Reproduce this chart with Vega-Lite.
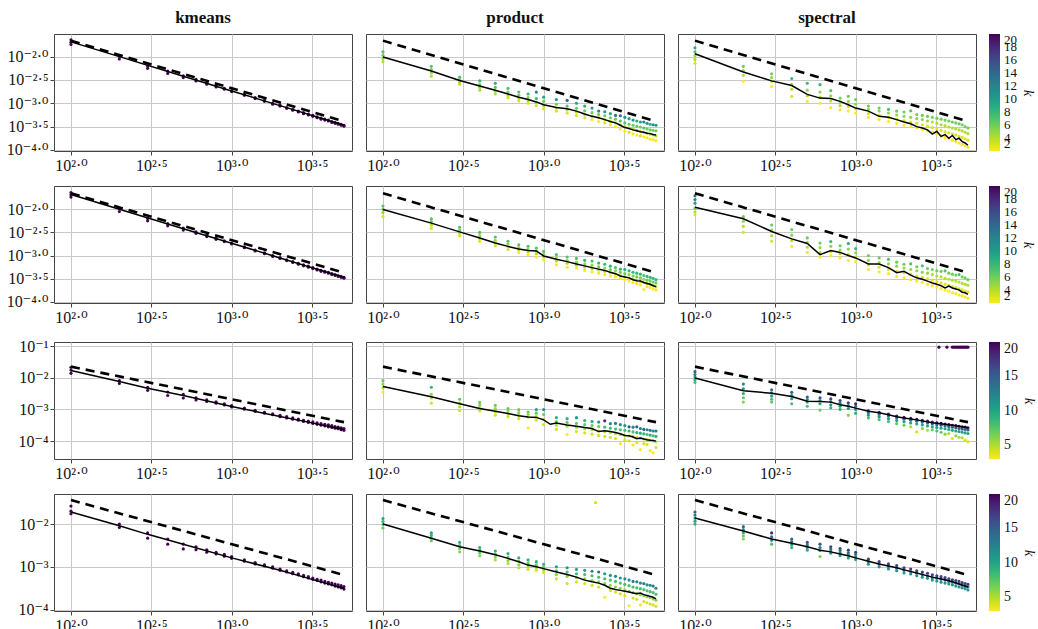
{
"$schema":"https://vega.github.io/schema/vega-lite/v6.json",
"background":"white",
"padding":{"left":5,"top":8,"right":0,"bottom":0},
"config":{
 "font":"'Liberation Serif', 'DejaVu Serif', serif",
 "view":{"stroke":"#444","strokeWidth":1},
 "axis":{"grid":true,"gridColor":"#c8c8c8","gridWidth":1,"domain":false,"tickColor":"#444","tickSize":4,"labelFont":"'Liberation Serif', 'DejaVu Serif', serif","labelFontSize":16,"labelColor":"#111","labelPadding":2},
 "legend":{"labelFont":"'Liberation Serif', 'DejaVu Serif', serif","titleFont":"'Liberation Serif', 'DejaVu Serif', serif"},
 "title":{"font":"'Liberation Serif', 'DejaVu Serif', serif","fontSize":17,"fontWeight":"bold","offset":7,"color":"#111"}
},
"datasets":{
"ref":[{"r":1,"n":100,"y":2.2e-2},{"r":1,"n":5000,"y":4.09e-4},{"r":2,"n":100,"y":2.2e-2},{"r":2,"n":5000,"y":4.27e-4},{"r":3,"n":100,"y":2.24e-2},{"r":3,"n":5000,"y":3.98e-4},{"r":4,"n":100,"y":3.63e-2},{"r":4,"n":5000,"y":6.46e-4}],
"km12":[{"n":100,"k":20,"y":2.29e-2},{"n":100,"k":20,"y":2.04e-2},{"n":100,"k":20,"y":1.82e-2},{"n":200,"k":20,"y":1.02e-2},{"n":200,"k":20,"y":8.9e-3},{"n":300,"k":20,"y":6.3e-3},{"n":300,"k":20,"y":5.6e-3},{"n":400,"k":20,"y":4.9e-3},{"n":400,"k":20,"y":4.37e-3},{"n":500,"k":20,"y":3.89e-3},{"n":500,"k":20,"y":3.55e-3},{"n":600,"k":20,"y":3.24e-3},{"n":600,"k":20,"y":3.02e-3},{"n":700,"k":20,"y":2.75e-3},{"n":700,"k":20,"y":2.57e-3},{"n":800,"k":20,"y":2.4e-3},{"n":800,"k":20,"y":2.24e-3},{"n":900,"k":20,"y":2.09e-3},{"n":900,"k":20,"y":2.0e-3},{"n":1000,"k":20,"y":1.86e-3},{"n":1000,"k":20,"y":1.78e-3},{"n":1200,"k":20,"y":1.55e-3},{"n":1200,"k":20,"y":1.48e-3},{"n":1400,"k":20,"y":1.32e-3},{"n":1400,"k":20,"y":1.26e-3},{"n":1600,"k":20,"y":1.15e-3},{"n":1600,"k":20,"y":1.1e-3},{"n":1800,"k":20,"y":1.0e-3},{"n":1800,"k":20,"y":9.55e-4},{"n":2000,"k":20,"y":9.1e-4},{"n":2000,"k":20,"y":8.7e-4},{"n":2200,"k":20,"y":8.1e-4},{"n":2200,"k":20,"y":7.8e-4},{"n":2400,"k":20,"y":7.4e-4},{"n":2400,"k":20,"y":7.1e-4},{"n":2600,"k":20,"y":6.8e-4},{"n":2600,"k":20,"y":6.5e-4},{"n":2800,"k":20,"y":6.3e-4},{"n":2800,"k":20,"y":6.0e-4},{"n":3000,"k":20,"y":5.9e-4},{"n":3000,"k":20,"y":5.6e-4},{"n":3200,"k":20,"y":5.5e-4},{"n":3200,"k":20,"y":5.25e-4},{"n":3400,"k":20,"y":5.1e-4},{"n":3400,"k":20,"y":4.9e-4},{"n":3600,"k":20,"y":4.8e-4},{"n":3600,"k":20,"y":4.57e-4},{"n":3800,"k":20,"y":4.57e-4},{"n":3800,"k":20,"y":4.37e-4},{"n":4000,"k":20,"y":4.37e-4},{"n":4000,"k":20,"y":4.17e-4},{"n":4200,"k":20,"y":4.07e-4},{"n":4200,"k":20,"y":3.89e-4},{"n":4400,"k":20,"y":3.89e-4},{"n":4400,"k":20,"y":3.72e-4},{"n":4600,"k":20,"y":3.72e-4},{"n":4600,"k":20,"y":3.55e-4},{"n":4800,"k":20,"y":3.55e-4},{"n":4800,"k":20,"y":3.39e-4},{"n":5000,"k":20,"y":3.39e-4},{"n":5000,"k":20,"y":3.24e-4}],
"m_km12":[{"n":100,"y":2.07e-2},{"n":200,"y":1.0e-2},{"n":500,"y":3.8e-3},{"n":1000,"y":1.84e-3},{"n":2000,"y":8.9e-4},{"n":5000,"y":3.39e-4}],
"km3":[{"n":100,"k":20,"y":2.14e-2},{"n":100,"k":20,"y":1.74e-2},{"n":100,"k":20,"y":1.38e-2},{"n":200,"k":20,"y":8.1e-3},{"n":200,"k":20,"y":6.6e-3},{"n":300,"k":20,"y":5.0e-3},{"n":300,"k":20,"y":4.0e-3},{"n":400,"k":20,"y":3.55e-3},{"n":400,"k":20,"y":2.75e-3},{"n":500,"k":20,"y":3.02e-3},{"n":500,"k":20,"y":2.29e-3},{"n":600,"k":20,"y":2.34e-3},{"n":600,"k":20,"y":2.0e-3},{"n":700,"k":20,"y":2.0e-3},{"n":700,"k":20,"y":1.78e-3},{"n":800,"k":20,"y":1.74e-3},{"n":800,"k":20,"y":1.58e-3},{"n":900,"k":20,"y":1.51e-3},{"n":900,"k":20,"y":1.38e-3},{"n":1000,"k":20,"y":1.32e-3},{"n":1000,"k":20,"y":1.2e-3},{"n":1200,"k":20,"y":1.1e-3},{"n":1200,"k":20,"y":1.02e-3},{"n":1400,"k":20,"y":9.3e-4},{"n":1400,"k":20,"y":8.7e-4},{"n":1600,"k":20,"y":8.1e-4},{"n":1600,"k":20,"y":7.6e-4},{"n":1800,"k":20,"y":7.2e-4},{"n":1800,"k":20,"y":6.8e-4},{"n":2000,"k":20,"y":6.5e-4},{"n":2000,"k":20,"y":5.9e-4},{"n":2200,"k":20,"y":5.9e-4},{"n":2200,"k":20,"y":5.4e-4},{"n":2400,"k":20,"y":5.4e-4},{"n":2400,"k":20,"y":4.9e-4},{"n":2600,"k":20,"y":5.0e-4},{"n":2600,"k":20,"y":4.57e-4},{"n":2800,"k":20,"y":4.57e-4},{"n":2800,"k":20,"y":4.17e-4},{"n":3000,"k":20,"y":4.27e-4},{"n":3000,"k":20,"y":3.89e-4},{"n":3200,"k":20,"y":4.07e-4},{"n":3200,"k":20,"y":3.63e-4},{"n":3400,"k":20,"y":3.8e-4},{"n":3400,"k":20,"y":3.39e-4},{"n":3600,"k":20,"y":3.55e-4},{"n":3600,"k":20,"y":3.16e-4},{"n":3800,"k":20,"y":3.39e-4},{"n":3800,"k":20,"y":3.02e-4},{"n":4000,"k":20,"y":3.24e-4},{"n":4000,"k":20,"y":2.82e-4},{"n":4200,"k":20,"y":3.09e-4},{"n":4200,"k":20,"y":2.69e-4},{"n":4400,"k":20,"y":2.88e-4},{"n":4400,"k":20,"y":2.57e-4},{"n":4600,"k":20,"y":2.75e-4},{"n":4600,"k":20,"y":2.45e-4},{"n":4800,"k":20,"y":2.63e-4},{"n":4800,"k":20,"y":2.29e-4},{"n":5000,"k":20,"y":2.51e-4},{"n":5000,"k":20,"y":2.19e-4}],
"m_km3":[{"n":100,"y":1.7e-2},{"n":200,"y":7.6e-3},{"n":300,"y":4.68e-3},{"n":500,"y":2.75e-3},{"n":1000,"y":1.23e-3},{"n":2000,"y":6.0e-4},{"n":3000,"y":3.98e-4},{"n":5000,"y":2.34e-4}],
"km4":[{"n":100,"k":20,"y":2.63e-2},{"n":100,"k":20,"y":2.0e-2},{"n":100,"k":20,"y":1.74e-2},{"n":200,"k":20,"y":1.0e-2},{"n":200,"k":20,"y":8.3e-3},{"n":300,"k":20,"y":6.2e-3},{"n":300,"k":20,"y":4.68e-3},{"n":400,"k":20,"y":4.47e-3},{"n":400,"k":20,"y":3.39e-3},{"n":500,"k":20,"y":3.39e-3},{"n":500,"k":20,"y":2.63e-3},{"n":600,"k":20,"y":2.95e-3},{"n":600,"k":20,"y":2.51e-3},{"n":700,"k":20,"y":2.51e-3},{"n":700,"k":20,"y":2.19e-3},{"n":800,"k":20,"y":2.19e-3},{"n":800,"k":20,"y":2.0e-3},{"n":900,"k":20,"y":1.95e-3},{"n":900,"k":20,"y":1.78e-3},{"n":1000,"k":20,"y":1.74e-3},{"n":1000,"k":20,"y":1.58e-3},{"n":1200,"k":20,"y":1.45e-3},{"n":1200,"k":20,"y":1.35e-3},{"n":1400,"k":20,"y":1.26e-3},{"n":1400,"k":20,"y":1.17e-3},{"n":1600,"k":20,"y":1.12e-3},{"n":1600,"k":20,"y":1.05e-3},{"n":1800,"k":20,"y":1.0e-3},{"n":1800,"k":20,"y":9.3e-4},{"n":2000,"k":20,"y":8.9e-4},{"n":2000,"k":20,"y":8.3e-4},{"n":2200,"k":20,"y":8.1e-4},{"n":2200,"k":20,"y":7.6e-4},{"n":2400,"k":20,"y":7.4e-4},{"n":2400,"k":20,"y":6.9e-4},{"n":2600,"k":20,"y":6.9e-4},{"n":2600,"k":20,"y":6.5e-4},{"n":2800,"k":20,"y":6.3e-4},{"n":2800,"k":20,"y":5.9e-4},{"n":3000,"k":20,"y":5.9e-4},{"n":3000,"k":20,"y":5.5e-4},{"n":3200,"k":20,"y":5.5e-4},{"n":3200,"k":20,"y":5.1e-4},{"n":3400,"k":20,"y":5.1e-4},{"n":3400,"k":20,"y":4.79e-4},{"n":3600,"k":20,"y":4.9e-4},{"n":3600,"k":20,"y":4.47e-4},{"n":3800,"k":20,"y":4.57e-4},{"n":3800,"k":20,"y":4.17e-4},{"n":4000,"k":20,"y":4.37e-4},{"n":4000,"k":20,"y":3.98e-4},{"n":4200,"k":20,"y":4.17e-4},{"n":4200,"k":20,"y":3.8e-4},{"n":4400,"k":20,"y":3.98e-4},{"n":4400,"k":20,"y":3.55e-4},{"n":4600,"k":20,"y":3.8e-4},{"n":4600,"k":20,"y":3.39e-4},{"n":4800,"k":20,"y":3.63e-4},{"n":4800,"k":20,"y":3.24e-4},{"n":5000,"k":20,"y":3.47e-4},{"n":5000,"k":20,"y":3.02e-4}],
"m_km4":[{"n":100,"y":1.91e-2},{"n":200,"y":9.1e-3},{"n":300,"y":5.75e-3},{"n":500,"y":3.39e-3},{"n":1000,"y":1.62e-3},{"n":2000,"y":8.3e-4},{"n":3162,"y":5.1e-4},{"n":5000,"y":3.16e-4}],
"pr1":[{"n":100,"k":7,"y":1.26e-2},{"n":100,"k":6,"y":1.07e-2},{"n":100,"k":5,"y":9.1e-3},{"n":100,"k":4,"y":7.8e-3},{"n":200,"k":7,"y":6.2e-3},{"n":200,"k":6,"y":5.25e-3},{"n":200,"k":5,"y":4.47e-3},{"n":200,"k":4,"y":3.8e-3},{"n":300,"k":7,"y":3.63e-3},{"n":300,"k":6,"y":3.24e-3},{"n":300,"k":5,"y":2.88e-3},{"n":300,"k":4,"y":2.57e-3},{"n":400,"k":8,"y":3.02e-3},{"n":400,"k":6,"y":2.51e-3},{"n":400,"k":5,"y":2.19e-3},{"n":400,"k":4,"y":1.91e-3},{"n":500,"k":9,"y":2.69e-3},{"n":500,"k":7,"y":2.19e-3},{"n":500,"k":5,"y":1.82e-3},{"n":500,"k":4,"y":1.58e-3},{"n":600,"k":7,"y":2.09e-3},{"n":600,"k":6,"y":1.74e-3},{"n":600,"k":4,"y":1.45e-3},{"n":600,"k":3,"y":1.32e-3},{"n":700,"k":7,"y":1.74e-3},{"n":700,"k":6,"y":1.48e-3},{"n":700,"k":4,"y":1.26e-3},{"n":700,"k":3,"y":1.12e-3},{"n":800,"k":8,"y":1.58e-3},{"n":800,"k":6,"y":1.32e-3},{"n":800,"k":4,"y":1.12e-3},{"n":800,"k":3,"y":1.0e-3},{"n":900,"k":12,"y":1.74e-3},{"n":900,"k":8,"y":1.26e-3},{"n":900,"k":5,"y":1.05e-3},{"n":900,"k":3,"y":8.9e-4},{"n":1000,"k":9,"y":1.35e-3},{"n":1000,"k":6,"y":1.1e-3},{"n":1000,"k":4,"y":8.9e-4},{"n":1000,"k":3,"y":7.6e-4},{"n":1200,"k":10,"y":1.2e-3},{"n":1200,"k":6,"y":9.55e-4},{"n":1200,"k":4,"y":7.9e-4},{"n":1200,"k":3,"y":6.8e-4},{"n":1400,"k":14,"y":1.15e-3},{"n":1400,"k":7,"y":8.7e-4},{"n":1400,"k":4,"y":7.2e-4},{"n":1400,"k":3,"y":6.2e-4},{"n":1600,"k":9,"y":1.0e-3},{"n":1600,"k":6,"y":7.8e-4},{"n":1600,"k":4,"y":6.5e-4},{"n":1600,"k":3,"y":5.5e-4},{"n":1800,"k":9,"y":8.7e-4},{"n":1800,"k":6,"y":6.9e-4},{"n":1800,"k":4,"y":5.75e-4},{"n":1800,"k":3,"y":4.9e-4},{"n":2000,"k":10,"y":7.9e-4},{"n":2000,"k":6,"y":6.3e-4},{"n":2000,"k":4,"y":5.25e-4},{"n":2000,"k":2,"y":4.47e-4},{"n":2200,"k":12,"y":6.8e-4},{"n":2200,"k":6,"y":5.75e-4},{"n":2200,"k":4,"y":4.9e-4},{"n":2200,"k":2,"y":4.07e-4},{"n":2400,"k":10,"y":6.6e-4},{"n":2400,"k":6,"y":5.4e-4},{"n":2400,"k":4,"y":4.47e-4},{"n":2400,"k":3,"y":3.8e-4},{"n":2600,"k":9,"y":6.0e-4},{"n":2600,"k":6,"y":4.9e-4},{"n":2600,"k":4,"y":4.07e-4},{"n":2600,"k":2,"y":3.47e-4},{"n":2800,"k":13,"y":5.5e-4},{"n":2800,"k":6,"y":4.57e-4},{"n":2800,"k":4,"y":3.8e-4},{"n":2800,"k":2,"y":3.16e-4},{"n":3000,"k":14,"y":5.4e-4},{"n":3000,"k":7,"y":4.17e-4},{"n":3000,"k":4,"y":3.47e-4},{"n":3000,"k":2,"y":2.82e-4},{"n":3200,"k":11,"y":5.0e-4},{"n":3200,"k":7,"y":3.8e-4},{"n":3200,"k":4,"y":3.16e-4},{"n":3200,"k":2,"y":2.51e-4},{"n":3400,"k":10,"y":4.68e-4},{"n":3400,"k":6,"y":3.55e-4},{"n":3400,"k":4,"y":2.95e-4},{"n":3400,"k":3,"y":2.4e-4},{"n":3600,"k":10,"y":4.37e-4},{"n":3600,"k":6,"y":3.39e-4},{"n":3600,"k":4,"y":2.82e-4},{"n":3600,"k":2,"y":2.19e-4},{"n":3800,"k":9,"y":4.17e-4},{"n":3800,"k":6,"y":3.24e-4},{"n":3800,"k":4,"y":2.63e-4},{"n":3800,"k":2,"y":2.09e-4},{"n":4000,"k":10,"y":3.98e-4},{"n":4000,"k":6,"y":3.09e-4},{"n":4000,"k":4,"y":2.51e-4},{"n":4000,"k":3,"y":2.0e-4},{"n":4200,"k":12,"y":3.98e-4},{"n":4200,"k":7,"y":2.95e-4},{"n":4200,"k":4,"y":2.4e-4},{"n":4200,"k":2,"y":1.91e-4},{"n":4400,"k":10,"y":3.72e-4},{"n":4400,"k":6,"y":2.82e-4},{"n":4400,"k":4,"y":2.29e-4},{"n":4400,"k":2,"y":1.82e-4},{"n":4600,"k":9,"y":3.55e-4},{"n":4600,"k":6,"y":2.69e-4},{"n":4600,"k":4,"y":2.19e-4},{"n":4600,"k":2,"y":1.7e-4},{"n":4800,"k":11,"y":3.47e-4},{"n":4800,"k":6,"y":2.63e-4},{"n":4800,"k":4,"y":2.09e-4},{"n":4800,"k":2,"y":1.66e-4},{"n":5000,"k":10,"y":3.39e-4},{"n":5000,"k":6,"y":2.57e-4},{"n":5000,"k":4,"y":2.0e-4},{"n":5000,"k":2,"y":1.58e-4}],
"m_pr1":[{"n":100,"y":9.8e-3},{"n":200,"y":4.9e-3},{"n":300,"y":3.09e-3},{"n":400,"y":2.34e-3},{"n":500,"y":1.91e-3},{"n":600,"y":1.58e-3},{"n":700,"y":1.35e-3},{"n":800,"y":1.2e-3},{"n":900,"y":1.07e-3},{"n":1000,"y":9.3e-4},{"n":1200,"y":8.1e-4},{"n":1400,"y":7.6e-4},{"n":1600,"y":6.8e-4},{"n":1800,"y":5.9e-4},{"n":2000,"y":5.25e-4},{"n":2200,"y":4.9e-4},{"n":2400,"y":4.47e-4},{"n":2600,"y":4.07e-4},{"n":2800,"y":3.8e-4},{"n":3000,"y":3.39e-4},{"n":3200,"y":3.02e-4},{"n":3400,"y":2.88e-4},{"n":3600,"y":2.69e-4},{"n":3800,"y":2.57e-4},{"n":4000,"y":2.45e-4},{"n":4200,"y":2.4e-4},{"n":4400,"y":2.29e-4},{"n":4600,"y":2.24e-4},{"n":4800,"y":2.14e-4},{"n":5000,"y":2.09e-4}],
"pr2":[{"n":100,"k":7,"y":1.17e-2},{"n":100,"k":6,"y":1.0e-2},{"n":100,"k":5,"y":8.5e-3},{"n":100,"k":3,"y":6.9e-3},{"n":200,"k":7,"y":6.2e-3},{"n":200,"k":6,"y":5.4e-3},{"n":200,"k":4,"y":4.57e-3},{"n":200,"k":3,"y":3.89e-3},{"n":300,"k":7,"y":4.07e-3},{"n":300,"k":6,"y":3.55e-3},{"n":300,"k":4,"y":3.09e-3},{"n":300,"k":3,"y":2.69e-3},{"n":400,"k":7,"y":3.16e-3},{"n":400,"k":5,"y":2.69e-3},{"n":400,"k":4,"y":2.34e-3},{"n":400,"k":3,"y":2.04e-3},{"n":500,"k":7,"y":2.51e-3},{"n":500,"k":5,"y":2.14e-3},{"n":500,"k":4,"y":1.86e-3},{"n":500,"k":3,"y":1.62e-3},{"n":600,"k":7,"y":2.04e-3},{"n":600,"k":5,"y":1.78e-3},{"n":600,"k":4,"y":1.55e-3},{"n":600,"k":3,"y":1.35e-3},{"n":700,"k":7,"y":1.7e-3},{"n":700,"k":5,"y":1.48e-3},{"n":700,"k":4,"y":1.32e-3},{"n":700,"k":2,"y":1.17e-3},{"n":800,"k":7,"y":1.58e-3},{"n":800,"k":5,"y":1.38e-3},{"n":800,"k":4,"y":1.2e-3},{"n":800,"k":2,"y":1.05e-3},{"n":900,"k":7,"y":1.45e-3},{"n":900,"k":5,"y":1.26e-3},{"n":900,"k":4,"y":1.1e-3},{"n":900,"k":2,"y":9.3e-4},{"n":1000,"k":7,"y":1.23e-3},{"n":1000,"k":5,"y":1.07e-3},{"n":1000,"k":4,"y":9.3e-4},{"n":1000,"k":2,"y":8.1e-4},{"n":1200,"k":7,"y":1.05e-3},{"n":1200,"k":5,"y":8.9e-4},{"n":1200,"k":4,"y":7.6e-4},{"n":1200,"k":2,"y":6.3e-4},{"n":1400,"k":7,"y":9.3e-4},{"n":1400,"k":5,"y":7.9e-4},{"n":1400,"k":4,"y":6.8e-4},{"n":1400,"k":2,"y":5.6e-4},{"n":1600,"k":7,"y":8.7e-4},{"n":1600,"k":5,"y":7.2e-4},{"n":1600,"k":4,"y":6.2e-4},{"n":1600,"k":2,"y":5.4e-4},{"n":1800,"k":8,"y":7.9e-4},{"n":1800,"k":5,"y":6.6e-4},{"n":1800,"k":4,"y":5.6e-4},{"n":1800,"k":2,"y":4.79e-4},{"n":2000,"k":7,"y":7.6e-4},{"n":2000,"k":5,"y":6.2e-4},{"n":2000,"k":4,"y":5.25e-4},{"n":2000,"k":2,"y":4.47e-4},{"n":2200,"k":8,"y":6.9e-4},{"n":2200,"k":6,"y":5.75e-4},{"n":2200,"k":4,"y":4.9e-4},{"n":2200,"k":2,"y":4.17e-4},{"n":2400,"k":8,"y":6.5e-4},{"n":2400,"k":5,"y":5.4e-4},{"n":2400,"k":4,"y":4.57e-4},{"n":2400,"k":2,"y":3.89e-4},{"n":2600,"k":8,"y":5.9e-4},{"n":2600,"k":6,"y":5.0e-4},{"n":2600,"k":4,"y":4.27e-4},{"n":2600,"k":2,"y":3.63e-4},{"n":2800,"k":7,"y":5.5e-4},{"n":2800,"k":5,"y":4.68e-4},{"n":2800,"k":3,"y":3.98e-4},{"n":2800,"k":2,"y":3.47e-4},{"n":3000,"k":8,"y":5.1e-4},{"n":3000,"k":6,"y":4.37e-4},{"n":3000,"k":4,"y":3.72e-4},{"n":3000,"k":2,"y":3.24e-4},{"n":3200,"k":9,"y":5.0e-4},{"n":3200,"k":6,"y":4.07e-4},{"n":3200,"k":4,"y":3.47e-4},{"n":3200,"k":2,"y":3.02e-4},{"n":3400,"k":8,"y":4.68e-4},{"n":3400,"k":5,"y":3.89e-4},{"n":3400,"k":3,"y":3.31e-4},{"n":3400,"k":2,"y":2.82e-4},{"n":3600,"k":8,"y":4.37e-4},{"n":3600,"k":6,"y":3.63e-4},{"n":3600,"k":4,"y":3.09e-4},{"n":3600,"k":2,"y":2.63e-4},{"n":3800,"k":8,"y":4.17e-4},{"n":3800,"k":6,"y":3.47e-4},{"n":3800,"k":4,"y":2.95e-4},{"n":3800,"k":2,"y":2.51e-4},{"n":4000,"k":8,"y":3.98e-4},{"n":4000,"k":6,"y":3.31e-4},{"n":4000,"k":4,"y":2.75e-4},{"n":4000,"k":2,"y":2.34e-4},{"n":4200,"k":7,"y":3.72e-4},{"n":4200,"k":5,"y":3.09e-4},{"n":4200,"k":3,"y":2.63e-4},{"n":4200,"k":2,"y":1.86e-4},{"n":4400,"k":8,"y":3.55e-4},{"n":4400,"k":6,"y":2.95e-4},{"n":4400,"k":4,"y":2.51e-4},{"n":4400,"k":2,"y":2.14e-4},{"n":4600,"k":8,"y":3.39e-4},{"n":4600,"k":6,"y":2.82e-4},{"n":4600,"k":4,"y":2.4e-4},{"n":4600,"k":2,"y":2.04e-4},{"n":4800,"k":8,"y":3.24e-4},{"n":4800,"k":6,"y":2.69e-4},{"n":4800,"k":4,"y":2.29e-4},{"n":4800,"k":2,"y":1.91e-4},{"n":5000,"k":8,"y":3.02e-4},{"n":5000,"k":6,"y":2.57e-4},{"n":5000,"k":4,"y":2.14e-4},{"n":5000,"k":2,"y":1.82e-4}],
"m_pr2":[{"n":100,"y":9.8e-3},{"n":200,"y":5.0e-3},{"n":300,"y":3.24e-3},{"n":400,"y":2.4e-3},{"n":500,"y":1.86e-3},{"n":600,"y":1.58e-3},{"n":700,"y":1.38e-3},{"n":800,"y":1.29e-3},{"n":900,"y":1.26e-3},{"n":1000,"y":9.8e-4},{"n":1200,"y":8.3e-4},{"n":1400,"y":7.4e-4},{"n":1600,"y":6.6e-4},{"n":1800,"y":6.0e-4},{"n":2000,"y":5.5e-4},{"n":2200,"y":5.1e-4},{"n":2400,"y":4.79e-4},{"n":2600,"y":4.37e-4},{"n":2800,"y":4.07e-4},{"n":3000,"y":3.63e-4},{"n":3200,"y":3.47e-4},{"n":3400,"y":3.31e-4},{"n":3600,"y":3.02e-4},{"n":3800,"y":2.88e-4},{"n":4000,"y":2.82e-4},{"n":4200,"y":2.63e-4},{"n":4400,"y":2.51e-4},{"n":4600,"y":2.4e-4},{"n":4800,"y":2.24e-4},{"n":5000,"y":2.14e-4}],
"pr3":[{"n":100,"k":7,"y":8.1e-3},{"n":100,"k":6,"y":6.3e-3},{"n":100,"k":5,"y":4.79e-3},{"n":100,"k":3,"y":3.55e-3},{"n":200,"k":9,"y":5.0e-3},{"n":200,"k":6,"y":3.02e-3},{"n":200,"k":5,"y":2.29e-3},{"n":200,"k":4,"y":1.58e-3},{"n":300,"k":7,"y":2.09e-3},{"n":300,"k":6,"y":1.58e-3},{"n":300,"k":5,"y":1.2e-3},{"n":300,"k":4,"y":9.1e-4},{"n":400,"k":7,"y":1.66e-3},{"n":400,"k":6,"y":1.35e-3},{"n":400,"k":5,"y":1.12e-3},{"n":400,"k":4,"y":8.9e-4},{"n":500,"k":7,"y":1.35e-3},{"n":500,"k":6,"y":1.07e-3},{"n":500,"k":5,"y":8.5e-4},{"n":500,"k":4,"y":6.6e-4},{"n":600,"k":7,"y":1.07e-3},{"n":600,"k":6,"y":8.9e-4},{"n":600,"k":5,"y":7.2e-4},{"n":600,"k":4,"y":5.9e-4},{"n":700,"k":7,"y":9.8e-4},{"n":700,"k":6,"y":7.9e-4},{"n":700,"k":5,"y":6.5e-4},{"n":700,"k":4,"y":5.1e-4},{"n":800,"k":7,"y":8.3e-4},{"n":800,"k":6,"y":6.9e-4},{"n":800,"k":5,"y":5.75e-4},{"n":800,"k":3,"y":2.63e-4},{"n":900,"k":10,"y":9.8e-4},{"n":900,"k":7,"y":7.6e-4},{"n":900,"k":5,"y":5.9e-4},{"n":900,"k":4,"y":4.57e-4},{"n":1000,"k":11,"y":9.8e-4},{"n":1000,"k":7,"y":6.9e-4},{"n":1000,"k":5,"y":5.0e-4},{"n":1000,"k":4,"y":3.31e-4},{"n":1200,"k":9,"y":5.5e-4},{"n":1200,"k":7,"y":4.17e-4},{"n":1200,"k":5,"y":3.16e-4},{"n":1200,"k":4,"y":2.34e-4},{"n":1400,"k":9,"y":5.1e-4},{"n":1400,"k":7,"y":3.89e-4},{"n":1400,"k":5,"y":2.95e-4},{"n":1400,"k":3,"y":1.62e-4},{"n":1600,"k":11,"y":5.5e-4},{"n":1600,"k":7,"y":3.63e-4},{"n":1600,"k":5,"y":2.69e-4},{"n":1600,"k":4,"y":2.0e-4},{"n":1800,"k":9,"y":4.47e-4},{"n":1800,"k":7,"y":3.31e-4},{"n":1800,"k":5,"y":2.45e-4},{"n":1800,"k":4,"y":1.82e-4},{"n":2000,"k":10,"y":4.17e-4},{"n":2000,"k":7,"y":3.09e-4},{"n":2000,"k":5,"y":2.29e-4},{"n":2000,"k":4,"y":1.66e-4},{"n":2200,"k":11,"y":3.98e-4},{"n":2200,"k":7,"y":2.88e-4},{"n":2200,"k":5,"y":2.09e-4},{"n":2200,"k":4,"y":1.51e-4},{"n":2400,"k":18,"y":4.37e-4},{"n":2400,"k":8,"y":2.75e-4},{"n":2400,"k":5,"y":2.0e-4},{"n":2400,"k":4,"y":1.41e-4},{"n":2600,"k":12,"y":3.55e-4},{"n":2600,"k":8,"y":2.57e-4},{"n":2600,"k":5,"y":1.86e-4},{"n":2600,"k":4,"y":1.32e-4},{"n":2800,"k":13,"y":3.63e-4},{"n":2800,"k":8,"y":2.4e-4},{"n":2800,"k":5,"y":1.74e-4},{"n":2800,"k":4,"y":1.2e-4},{"n":3000,"k":12,"y":3.31e-4},{"n":3000,"k":8,"y":2.29e-4},{"n":3000,"k":5,"y":1.62e-4},{"n":3000,"k":3,"y":8.3e-5},{"n":3200,"k":11,"y":3.09e-4},{"n":3200,"k":8,"y":2.19e-4},{"n":3200,"k":5,"y":1.51e-4},{"n":3200,"k":4,"y":1.07e-4},{"n":3400,"k":15,"y":2.82e-4},{"n":3400,"k":9,"y":2.09e-4},{"n":3400,"k":5,"y":1.45e-4},{"n":3400,"k":4,"y":1.02e-4},{"n":3600,"k":12,"y":2.75e-4},{"n":3600,"k":8,"y":1.95e-4},{"n":3600,"k":5,"y":1.38e-4},{"n":3600,"k":3,"y":7.6e-5},{"n":3800,"k":15,"y":2.82e-4},{"n":3800,"k":9,"y":1.86e-4},{"n":3800,"k":5,"y":1.29e-4},{"n":3800,"k":4,"y":9.1e-5},{"n":4000,"k":13,"y":2.51e-4},{"n":4000,"k":9,"y":1.78e-4},{"n":4000,"k":5,"y":1.23e-4},{"n":4000,"k":3,"y":5.4e-5},{"n":4200,"k":15,"y":2.34e-4},{"n":4200,"k":9,"y":1.7e-4},{"n":4200,"k":5,"y":1.17e-4},{"n":4200,"k":4,"y":8.3e-5},{"n":4400,"k":12,"y":2.29e-4},{"n":4400,"k":8,"y":1.62e-4},{"n":4400,"k":5,"y":1.12e-4},{"n":4400,"k":4,"y":7.8e-5},{"n":4600,"k":13,"y":2.19e-4},{"n":4600,"k":9,"y":1.55e-4},{"n":4600,"k":5,"y":1.07e-4},{"n":4600,"k":3,"y":5.0e-5},{"n":4800,"k":12,"y":2.09e-4},{"n":4800,"k":8,"y":1.48e-4},{"n":4800,"k":5,"y":1.02e-4},{"n":4800,"k":3,"y":4.27e-5},{"n":5000,"k":13,"y":2.09e-4},{"n":5000,"k":9,"y":1.41e-4},{"n":5000,"k":5,"y":9.55e-5},{"n":5000,"k":4,"y":6.3e-5}],
"m_pr3":[{"n":100,"y":5.25e-3},{"n":200,"y":2.51e-3},{"n":300,"y":1.51e-3},{"n":400,"y":1.07e-3},{"n":500,"y":8.7e-4},{"n":600,"y":7.4e-4},{"n":700,"y":6.3e-4},{"n":800,"y":5.75e-4},{"n":900,"y":5.6e-4},{"n":1000,"y":4.68e-4},{"n":1100,"y":3.39e-4},{"n":1200,"y":3.72e-4},{"n":1400,"y":3.24e-4},{"n":1600,"y":2.95e-4},{"n":1800,"y":2.69e-4},{"n":2000,"y":2.51e-4},{"n":2200,"y":2.0e-4},{"n":2400,"y":2.14e-4},{"n":2600,"y":2.0e-4},{"n":2800,"y":1.86e-4},{"n":3000,"y":1.7e-4},{"n":3200,"y":1.51e-4},{"n":3400,"y":1.48e-4},{"n":3600,"y":1.35e-4},{"n":3800,"y":1.2e-4},{"n":4000,"y":1.26e-4},{"n":4200,"y":1.17e-4},{"n":4400,"y":1.1e-4},{"n":4600,"y":1.07e-4},{"n":4800,"y":1.05e-4},{"n":5000,"y":1.0e-4}],
"pr4":[{"n":100,"k":10,"y":1.35e-2},{"n":100,"k":9,"y":1.15e-2},{"n":100,"k":8,"y":9.8e-3},{"n":100,"k":7,"y":8.1e-3},{"n":200,"k":10,"y":6.2e-3},{"n":200,"k":9,"y":5.4e-3},{"n":200,"k":8,"y":4.68e-3},{"n":200,"k":7,"y":4.07e-3},{"n":300,"k":9,"y":3.72e-3},{"n":300,"k":8,"y":3.16e-3},{"n":300,"k":7,"y":2.69e-3},{"n":300,"k":6,"y":2.24e-3},{"n":400,"k":9,"y":2.82e-3},{"n":400,"k":8,"y":2.45e-3},{"n":400,"k":7,"y":2.14e-3},{"n":400,"k":6,"y":1.82e-3},{"n":500,"k":9,"y":2.34e-3},{"n":500,"k":7,"y":2.0e-3},{"n":500,"k":6,"y":1.7e-3},{"n":500,"k":5,"y":1.45e-3},{"n":600,"k":9,"y":2.04e-3},{"n":600,"k":7,"y":1.7e-3},{"n":600,"k":6,"y":1.41e-3},{"n":600,"k":5,"y":1.2e-3},{"n":700,"k":9,"y":1.62e-3},{"n":700,"k":7,"y":1.35e-3},{"n":700,"k":6,"y":1.12e-3},{"n":700,"k":5,"y":9.55e-4},{"n":800,"k":9,"y":1.45e-3},{"n":800,"k":7,"y":1.23e-3},{"n":800,"k":6,"y":1.05e-3},{"n":800,"k":4,"y":8.7e-4},{"n":900,"k":9,"y":1.32e-3},{"n":900,"k":7,"y":1.12e-3},{"n":900,"k":5,"y":9.55e-4},{"n":900,"k":4,"y":8.3e-4},{"n":1000,"k":9,"y":1.15e-3},{"n":1000,"k":7,"y":1.0e-3},{"n":1000,"k":5,"y":8.5e-4},{"n":1000,"k":4,"y":7.4e-4},{"n":1200,"k":10,"y":1.0e-3},{"n":1200,"k":8,"y":8.1e-4},{"n":1200,"k":6,"y":6.6e-4},{"n":1200,"k":4,"y":5.25e-4},{"n":1400,"k":11,"y":9.55e-4},{"n":1400,"k":8,"y":7.6e-4},{"n":1400,"k":6,"y":6.0e-4},{"n":1400,"k":4,"y":4.07e-4},{"n":1600,"k":10,"y":8.7e-4},{"n":1600,"k":8,"y":6.9e-4},{"n":1600,"k":6,"y":5.6e-4},{"n":1600,"k":4,"y":4.47e-4},{"n":1800,"k":10,"y":8.3e-4},{"n":1800,"k":8,"y":6.6e-4},{"n":1800,"k":6,"y":5.25e-4},{"n":1800,"k":4,"y":4.07e-4},{"n":2000,"k":12,"y":7.9e-4},{"n":2000,"k":8,"y":6.2e-4},{"n":2000,"k":6,"y":4.79e-4},{"n":2000,"k":4,"y":3.72e-4},{"n":2100,"k":4,"y":3.16e-2},{"n":2200,"k":14,"y":7.6e-4},{"n":2200,"k":8,"y":5.75e-4},{"n":2200,"k":6,"y":4.47e-4},{"n":2200,"k":4,"y":3.39e-4},{"n":2400,"k":11,"y":6.9e-4},{"n":2400,"k":8,"y":5.25e-4},{"n":2400,"k":6,"y":4.07e-4},{"n":2400,"k":3,"y":1.95e-4},{"n":2600,"k":11,"y":6.3e-4},{"n":2600,"k":8,"y":4.9e-4},{"n":2600,"k":6,"y":3.72e-4},{"n":2600,"k":4,"y":2.82e-4},{"n":2800,"k":12,"y":6.0e-4},{"n":2800,"k":8,"y":4.57e-4},{"n":2800,"k":6,"y":3.39e-4},{"n":2800,"k":4,"y":2.57e-4},{"n":3000,"k":11,"y":5.5e-4},{"n":3000,"k":8,"y":4.17e-4},{"n":3000,"k":6,"y":3.16e-4},{"n":3000,"k":4,"y":2.34e-4},{"n":3200,"k":12,"y":5.25e-4},{"n":3200,"k":8,"y":3.89e-4},{"n":3200,"k":6,"y":2.88e-4},{"n":3200,"k":4,"y":2.14e-4},{"n":3400,"k":12,"y":4.9e-4},{"n":3400,"k":8,"y":3.63e-4},{"n":3400,"k":6,"y":2.69e-4},{"n":3400,"k":3,"y":1.23e-4},{"n":3600,"k":13,"y":4.57e-4},{"n":3600,"k":8,"y":3.39e-4},{"n":3600,"k":6,"y":2.51e-4},{"n":3600,"k":4,"y":1.86e-4},{"n":3800,"k":12,"y":4.47e-4},{"n":3800,"k":8,"y":3.24e-4},{"n":3800,"k":6,"y":2.4e-4},{"n":3800,"k":4,"y":1.74e-4},{"n":4000,"k":12,"y":4.17e-4},{"n":4000,"k":8,"y":3.09e-4},{"n":4000,"k":6,"y":2.24e-4},{"n":4000,"k":3,"y":1.29e-4},{"n":4200,"k":13,"y":4.07e-4},{"n":4200,"k":8,"y":2.95e-4},{"n":4200,"k":6,"y":2.14e-4},{"n":4200,"k":4,"y":1.55e-4},{"n":4400,"k":12,"y":3.8e-4},{"n":4400,"k":8,"y":2.75e-4},{"n":4400,"k":6,"y":2.0e-4},{"n":4400,"k":4,"y":1.45e-4},{"n":4600,"k":12,"y":3.72e-4},{"n":4600,"k":8,"y":2.63e-4},{"n":4600,"k":6,"y":1.91e-4},{"n":4600,"k":4,"y":1.35e-4},{"n":4800,"k":13,"y":3.55e-4},{"n":4800,"k":8,"y":2.51e-4},{"n":4800,"k":6,"y":1.78e-4},{"n":4800,"k":4,"y":1.29e-4},{"n":5000,"k":12,"y":3.16e-4},{"n":5000,"k":8,"y":2.29e-4},{"n":5000,"k":6,"y":1.66e-4},{"n":5000,"k":4,"y":1.2e-4}],
"m_pr4":[{"n":100,"y":1.0e-2},{"n":200,"y":4.68e-3},{"n":300,"y":2.95e-3},{"n":400,"y":2.34e-3},{"n":500,"y":1.91e-3},{"n":600,"y":1.58e-3},{"n":700,"y":1.32e-3},{"n":800,"y":1.1e-3},{"n":900,"y":1.0e-3},{"n":1000,"y":9.1e-4},{"n":1200,"y":7.6e-4},{"n":1400,"y":6.6e-4},{"n":1600,"y":5.75e-4},{"n":1800,"y":4.9e-4},{"n":2000,"y":4.47e-4},{"n":2200,"y":4.17e-4},{"n":2400,"y":3.72e-4},{"n":2600,"y":3.16e-4},{"n":2800,"y":2.95e-4},{"n":3000,"y":2.82e-4},{"n":3200,"y":2.69e-4},{"n":3400,"y":2.57e-4},{"n":3600,"y":2.45e-4},{"n":3800,"y":2.34e-4},{"n":4000,"y":2.45e-4},{"n":4200,"y":2.24e-4},{"n":4400,"y":2.14e-4},{"n":4600,"y":2.04e-4},{"n":4800,"y":1.95e-4},{"n":5000,"y":1.78e-4}],
"sp1":[{"n":100,"k":9,"y":1.55e-2},{"n":100,"k":7,"y":1.26e-2},{"n":100,"k":5,"y":1.05e-2},{"n":100,"k":4,"y":8.7e-3},{"n":100,"k":3,"y":7.2e-3},{"n":200,"k":6,"y":6.2e-3},{"n":200,"k":5,"y":5.0e-3},{"n":200,"k":4,"y":3.98e-3},{"n":200,"k":2,"y":2.95e-3},{"n":300,"k":6,"y":4.27e-3},{"n":300,"k":5,"y":3.55e-3},{"n":300,"k":4,"y":2.95e-3},{"n":300,"k":2,"y":2.29e-3},{"n":400,"k":8,"y":3.39e-3},{"n":400,"k":5,"y":2.51e-3},{"n":400,"k":4,"y":2.0e-3},{"n":400,"k":3,"y":1.41e-3},{"n":500,"k":8,"y":2.69e-3},{"n":500,"k":5,"y":1.91e-3},{"n":500,"k":4,"y":1.45e-3},{"n":500,"k":2,"y":1.1e-3},{"n":600,"k":8,"y":2.51e-3},{"n":600,"k":5,"y":1.74e-3},{"n":600,"k":4,"y":1.35e-3},{"n":600,"k":2,"y":1.0e-3},{"n":700,"k":7,"y":1.86e-3},{"n":700,"k":5,"y":1.45e-3},{"n":700,"k":4,"y":1.12e-3},{"n":700,"k":2,"y":8.1e-4},{"n":800,"k":6,"y":1.29e-3},{"n":800,"k":5,"y":1.07e-3},{"n":800,"k":4,"y":8.9e-4},{"n":800,"k":2,"y":7.2e-4},{"n":900,"k":6,"y":1.41e-3},{"n":900,"k":5,"y":1.1e-3},{"n":900,"k":3,"y":8.5e-4},{"n":900,"k":2,"y":6.8e-4},{"n":1000,"k":6,"y":1.2e-3},{"n":1000,"k":5,"y":9.55e-4},{"n":1000,"k":3,"y":7.6e-4},{"n":1000,"k":2,"y":6.2e-4},{"n":1200,"k":6,"y":8.7e-4},{"n":1200,"k":5,"y":7.4e-4},{"n":1200,"k":3,"y":6.0e-4},{"n":1200,"k":2,"y":5.0e-4},{"n":1400,"k":6,"y":7.9e-4},{"n":1400,"k":5,"y":6.8e-4},{"n":1400,"k":3,"y":5.5e-4},{"n":1400,"k":2,"y":4.47e-4},{"n":1600,"k":7,"y":7.4e-4},{"n":1600,"k":5,"y":6.2e-4},{"n":1600,"k":3,"y":5.0e-4},{"n":1600,"k":2,"y":4.07e-4},{"n":1800,"k":6,"y":6.8e-4},{"n":1800,"k":5,"y":5.6e-4},{"n":1800,"k":3,"y":4.57e-4},{"n":1800,"k":2,"y":3.72e-4},{"n":2000,"k":6,"y":6.5e-4},{"n":2000,"k":5,"y":5.25e-4},{"n":2000,"k":3,"y":4.27e-4},{"n":2000,"k":2,"y":3.39e-4},{"n":2200,"k":7,"y":6.9e-4},{"n":2200,"k":5,"y":5.0e-4},{"n":2200,"k":3,"y":3.98e-4},{"n":2200,"k":2,"y":3.16e-4},{"n":2400,"k":6,"y":5.75e-4},{"n":2400,"k":5,"y":4.68e-4},{"n":2400,"k":3,"y":3.72e-4},{"n":2400,"k":2,"y":2.95e-4},{"n":2600,"k":6,"y":5.5e-4},{"n":2600,"k":5,"y":4.47e-4},{"n":2600,"k":3,"y":3.47e-4},{"n":2600,"k":2,"y":2.75e-4},{"n":2800,"k":6,"y":5.25e-4},{"n":2800,"k":5,"y":4.17e-4},{"n":2800,"k":3,"y":3.24e-4},{"n":2800,"k":2,"y":2.57e-4},{"n":3000,"k":6,"y":5.0e-4},{"n":3000,"k":4,"y":3.98e-4},{"n":3000,"k":3,"y":3.02e-4},{"n":3000,"k":2,"y":2.4e-4},{"n":3200,"k":6,"y":4.79e-4},{"n":3200,"k":4,"y":3.72e-4},{"n":3200,"k":3,"y":2.82e-4},{"n":3200,"k":2,"y":2.19e-4},{"n":3400,"k":6,"y":4.57e-4},{"n":3400,"k":4,"y":3.47e-4},{"n":3400,"k":3,"y":2.63e-4},{"n":3400,"k":2,"y":2.0e-4},{"n":3600,"k":6,"y":4.37e-4},{"n":3600,"k":4,"y":3.31e-4},{"n":3600,"k":3,"y":2.45e-4},{"n":3600,"k":2,"y":1.86e-4},{"n":3800,"k":6,"y":4.17e-4},{"n":3800,"k":4,"y":3.09e-4},{"n":3800,"k":3,"y":2.34e-4},{"n":3800,"k":2,"y":1.74e-4},{"n":4000,"k":6,"y":3.98e-4},{"n":4000,"k":4,"y":2.95e-4},{"n":4000,"k":3,"y":2.19e-4},{"n":4000,"k":2,"y":1.62e-4},{"n":4200,"k":6,"y":3.8e-4},{"n":4200,"k":4,"y":2.82e-4},{"n":4200,"k":3,"y":2.09e-4},{"n":4200,"k":2,"y":1.51e-4},{"n":4400,"k":6,"y":3.63e-4},{"n":4400,"k":4,"y":2.69e-4},{"n":4400,"k":3,"y":1.95e-4},{"n":4400,"k":2,"y":1.41e-4},{"n":4600,"k":6,"y":3.47e-4},{"n":4600,"k":4,"y":2.57e-4},{"n":4600,"k":3,"y":1.86e-4},{"n":4600,"k":2,"y":1.32e-4},{"n":4800,"k":6,"y":3.16e-4},{"n":4800,"k":4,"y":2.4e-4},{"n":4800,"k":3,"y":1.74e-4},{"n":4800,"k":2,"y":1.23e-4},{"n":5000,"k":6,"y":2.95e-4},{"n":5000,"k":4,"y":2.24e-4},{"n":5000,"k":3,"y":1.62e-4},{"n":5000,"k":2,"y":1.15e-4}],
"m_sp1":[{"n":100,"y":1.15e-2},{"n":200,"y":4.68e-3},{"n":300,"y":3.02e-3},{"n":400,"y":2.4e-3},{"n":500,"y":1.55e-3},{"n":600,"y":1.29e-3},{"n":700,"y":1.26e-3},{"n":800,"y":1.1e-3},{"n":900,"y":9.3e-4},{"n":1000,"y":7.9e-4},{"n":1200,"y":6.8e-4},{"n":1400,"y":5.25e-4},{"n":1600,"y":5.0e-4},{"n":1800,"y":4.47e-4},{"n":2000,"y":3.98e-4},{"n":2200,"y":3.63e-4},{"n":2400,"y":3.16e-4},{"n":2600,"y":2.95e-4},{"n":2800,"y":2.69e-4},{"n":3000,"y":2.19e-4},{"n":3200,"y":2.51e-4},{"n":3400,"y":1.95e-4},{"n":3600,"y":2.14e-4},{"n":3800,"y":1.78e-4},{"n":4000,"y":2.04e-4},{"n":4200,"y":1.66e-4},{"n":4400,"y":1.78e-4},{"n":4600,"y":1.51e-4},{"n":4800,"y":1.41e-4},{"n":5000,"y":1.26e-4}],
"sp2":[{"n":100,"k":14,"y":1.95e-2},{"n":100,"k":12,"y":1.62e-2},{"n":100,"k":10,"y":1.35e-2},{"n":100,"k":6,"y":1.05e-2},{"n":100,"k":4,"y":8.7e-3},{"n":100,"k":3,"y":7.6e-3},{"n":200,"k":6,"y":6.9e-3},{"n":200,"k":5,"y":5.5e-3},{"n":200,"k":4,"y":4.27e-3},{"n":200,"k":3,"y":3.16e-3},{"n":300,"k":6,"y":4.57e-3},{"n":300,"k":5,"y":3.55e-3},{"n":300,"k":4,"y":2.69e-3},{"n":300,"k":3,"y":2.04e-3},{"n":400,"k":6,"y":3.63e-3},{"n":400,"k":5,"y":2.75e-3},{"n":400,"k":4,"y":2.09e-3},{"n":400,"k":2,"y":1.58e-3},{"n":500,"k":6,"y":2.4e-3},{"n":500,"k":5,"y":1.91e-3},{"n":500,"k":4,"y":1.51e-3},{"n":500,"k":2,"y":1.17e-3},{"n":600,"k":6,"y":1.86e-3},{"n":600,"k":5,"y":1.48e-3},{"n":600,"k":4,"y":1.17e-3},{"n":600,"k":2,"y":9.3e-4},{"n":700,"k":8,"y":2.0e-3},{"n":700,"k":5,"y":1.58e-3},{"n":700,"k":4,"y":1.23e-3},{"n":700,"k":2,"y":1.0e-3},{"n":800,"k":6,"y":1.62e-3},{"n":800,"k":5,"y":1.32e-3},{"n":800,"k":4,"y":1.1e-3},{"n":800,"k":2,"y":8.9e-4},{"n":900,"k":9,"y":1.82e-3},{"n":900,"k":5,"y":1.38e-3},{"n":900,"k":4,"y":1.05e-3},{"n":900,"k":2,"y":7.9e-4},{"n":1000,"k":8,"y":1.41e-3},{"n":1000,"k":5,"y":1.15e-3},{"n":1000,"k":4,"y":9.3e-4},{"n":1000,"k":2,"y":7.4e-4},{"n":1200,"k":6,"y":1.0e-3},{"n":1200,"k":5,"y":7.9e-4},{"n":1200,"k":3,"y":6.3e-4},{"n":1200,"k":2,"y":5.0e-4},{"n":1400,"k":6,"y":8.9e-4},{"n":1400,"k":5,"y":7.1e-4},{"n":1400,"k":3,"y":5.6e-4},{"n":1400,"k":2,"y":4.47e-4},{"n":1600,"k":7,"y":8.3e-4},{"n":1600,"k":5,"y":6.6e-4},{"n":1600,"k":3,"y":5.1e-4},{"n":1600,"k":2,"y":4.07e-4},{"n":1800,"k":6,"y":7.2e-4},{"n":1800,"k":5,"y":5.9e-4},{"n":1800,"k":3,"y":4.57e-4},{"n":1800,"k":2,"y":3.55e-4},{"n":2000,"k":6,"y":6.5e-4},{"n":2000,"k":5,"y":5.4e-4},{"n":2000,"k":3,"y":4.27e-4},{"n":2000,"k":2,"y":3.31e-4},{"n":2200,"k":7,"y":6.6e-4},{"n":2200,"k":5,"y":5.0e-4},{"n":2200,"k":3,"y":3.98e-4},{"n":2200,"k":2,"y":3.02e-4},{"n":2400,"k":6,"y":5.75e-4},{"n":2400,"k":5,"y":4.68e-4},{"n":2400,"k":3,"y":3.63e-4},{"n":2400,"k":2,"y":2.82e-4},{"n":2600,"k":7,"y":6.0e-4},{"n":2600,"k":5,"y":4.37e-4},{"n":2600,"k":3,"y":3.39e-4},{"n":2600,"k":2,"y":2.63e-4},{"n":2800,"k":6,"y":5.25e-4},{"n":2800,"k":5,"y":4.17e-4},{"n":2800,"k":3,"y":3.16e-4},{"n":2800,"k":2,"y":2.4e-4},{"n":3000,"k":6,"y":5.0e-4},{"n":3000,"k":4,"y":3.89e-4},{"n":3000,"k":3,"y":2.95e-4},{"n":3000,"k":2,"y":2.24e-4},{"n":3200,"k":6,"y":4.68e-4},{"n":3200,"k":4,"y":3.63e-4},{"n":3200,"k":3,"y":2.75e-4},{"n":3200,"k":2,"y":2.09e-4},{"n":3400,"k":6,"y":4.57e-4},{"n":3400,"k":4,"y":3.47e-4},{"n":3400,"k":3,"y":2.57e-4},{"n":3400,"k":2,"y":1.95e-4},{"n":3600,"k":7,"y":4.68e-4},{"n":3600,"k":4,"y":3.24e-4},{"n":3600,"k":3,"y":2.4e-4},{"n":3600,"k":2,"y":1.82e-4},{"n":3800,"k":6,"y":4.17e-4},{"n":3800,"k":4,"y":3.09e-4},{"n":3800,"k":3,"y":2.29e-4},{"n":3800,"k":2,"y":1.7e-4},{"n":4000,"k":6,"y":3.98e-4},{"n":4000,"k":4,"y":2.95e-4},{"n":4000,"k":3,"y":2.14e-4},{"n":4000,"k":2,"y":1.58e-4},{"n":4200,"k":6,"y":3.8e-4},{"n":4200,"k":4,"y":2.82e-4},{"n":4200,"k":3,"y":2.04e-4},{"n":4200,"k":2,"y":1.51e-4},{"n":4400,"k":7,"y":3.89e-4},{"n":4400,"k":4,"y":2.69e-4},{"n":4400,"k":3,"y":1.91e-4},{"n":4400,"k":2,"y":1.41e-4},{"n":4600,"k":6,"y":3.47e-4},{"n":4600,"k":4,"y":2.51e-4},{"n":4600,"k":3,"y":1.82e-4},{"n":4600,"k":2,"y":1.35e-4},{"n":4800,"k":6,"y":3.31e-4},{"n":4800,"k":4,"y":2.4e-4},{"n":4800,"k":3,"y":1.74e-4},{"n":4800,"k":2,"y":1.29e-4},{"n":5000,"k":6,"y":3.02e-4},{"n":5000,"k":4,"y":2.29e-4},{"n":5000,"k":3,"y":1.66e-4},{"n":5000,"k":2,"y":1.2e-4}],
"m_sp2":[{"n":100,"y":1.1e-2},{"n":200,"y":6.2e-3},{"n":300,"y":3.31e-3},{"n":400,"y":2.29e-3},{"n":500,"y":1.82e-3},{"n":600,"y":1.05e-3},{"n":700,"y":1.29e-3},{"n":800,"y":1.17e-3},{"n":900,"y":1.0e-3},{"n":1000,"y":8.9e-4},{"n":1200,"y":6.6e-4},{"n":1400,"y":6.6e-4},{"n":1600,"y":5.5e-4},{"n":1800,"y":4.27e-4},{"n":2000,"y":4.57e-4},{"n":2200,"y":3.8e-4},{"n":2400,"y":3.31e-4},{"n":2600,"y":3.09e-4},{"n":2800,"y":2.82e-4},{"n":3000,"y":2.57e-4},{"n":3200,"y":2.4e-4},{"n":3400,"y":2.24e-4},{"n":3600,"y":2.0e-4},{"n":3800,"y":2.19e-4},{"n":4000,"y":2.0e-4},{"n":4200,"y":1.91e-4},{"n":4400,"y":1.82e-4},{"n":4600,"y":1.62e-4},{"n":4800,"y":1.58e-4},{"n":5000,"y":1.45e-4}],
"sp3":[{"n":100,"k":15,"y":1.55e-2},{"n":100,"k":13,"y":1.26e-2},{"n":100,"k":11,"y":1.05e-2},{"n":100,"k":9,"y":8.7e-3},{"n":100,"k":8,"y":7.1e-3},{"n":200,"k":12,"y":6.3e-3},{"n":200,"k":11,"y":4.47e-3},{"n":200,"k":9,"y":3.16e-3},{"n":200,"k":7,"y":2.34e-3},{"n":200,"k":6,"y":1.7e-3},{"n":300,"k":14,"y":4.17e-3},{"n":300,"k":12,"y":3.31e-3},{"n":300,"k":10,"y":2.63e-3},{"n":300,"k":8,"y":2.09e-3},{"n":300,"k":7,"y":1.7e-3},{"n":400,"k":15,"y":3.47e-3},{"n":400,"k":12,"y":2.75e-3},{"n":400,"k":10,"y":2.19e-3},{"n":400,"k":8,"y":1.51e-3},{"n":500,"k":15,"y":2.45e-3},{"n":500,"k":12,"y":2.04e-3},{"n":500,"k":10,"y":1.7e-3},{"n":500,"k":8,"y":1.26e-3},{"n":600,"k":16,"y":2.34e-3},{"n":600,"k":12,"y":1.91e-3},{"n":600,"k":10,"y":1.51e-3},{"n":600,"k":7,"y":9.55e-4},{"n":700,"k":17,"y":2.14e-3},{"n":700,"k":13,"y":1.74e-3},{"n":700,"k":11,"y":1.38e-3},{"n":700,"k":9,"y":1.12e-3},{"n":800,"k":17,"y":1.91e-3},{"n":800,"k":13,"y":1.58e-3},{"n":800,"k":11,"y":1.26e-3},{"n":800,"k":9,"y":1.0e-3},{"n":900,"k":17,"y":1.62e-3},{"n":900,"k":13,"y":1.32e-3},{"n":900,"k":11,"y":1.07e-3},{"n":900,"k":6,"y":6.5e-4},{"n":1000,"k":18,"y":1.51e-3},{"n":1000,"k":14,"y":1.26e-3},{"n":1000,"k":11,"y":1.0e-3},{"n":1000,"k":9,"y":7.6e-4},{"n":1200,"k":19,"y":9.1e-4},{"n":1200,"k":14,"y":7.9e-4},{"n":1200,"k":11,"y":6.6e-4},{"n":1200,"k":8,"y":5.4e-4},{"n":1400,"k":19,"y":8.1e-4},{"n":1400,"k":14,"y":7.1e-4},{"n":1400,"k":11,"y":5.9e-4},{"n":1400,"k":8,"y":4.79e-4},{"n":1600,"k":19,"y":7.1e-4},{"n":1600,"k":14,"y":6.2e-4},{"n":1600,"k":11,"y":5.1e-4},{"n":1600,"k":8,"y":4.17e-4},{"n":1800,"k":19,"y":6.2e-4},{"n":1800,"k":14,"y":5.4e-4},{"n":1800,"k":11,"y":4.47e-4},{"n":1800,"k":7,"y":3.55e-4},{"n":2000,"k":19,"y":5.6e-4},{"n":2000,"k":14,"y":4.9e-4},{"n":2000,"k":10,"y":4.07e-4},{"n":2000,"k":7,"y":3.16e-4},{"n":2200,"k":19,"y":5.25e-4},{"n":2200,"k":14,"y":4.57e-4},{"n":2200,"k":10,"y":3.72e-4},{"n":2200,"k":5,"y":2.82e-4},{"n":2400,"k":19,"y":4.9e-4},{"n":2400,"k":14,"y":4.27e-4},{"n":2400,"k":10,"y":3.47e-4},{"n":2400,"k":4,"y":1.95e-4},{"n":2600,"k":19,"y":4.57e-4},{"n":2600,"k":14,"y":3.98e-4},{"n":2600,"k":10,"y":3.24e-4},{"n":2600,"k":6,"y":2.51e-4},{"n":2800,"k":19,"y":4.27e-4},{"n":2800,"k":14,"y":3.72e-4},{"n":2800,"k":10,"y":3.02e-4},{"n":2800,"k":5,"y":2.19e-4},{"n":3000,"k":19,"y":3.98e-4},{"n":3000,"k":14,"y":3.47e-4},{"n":3000,"k":10,"y":2.82e-4},{"n":3000,"k":7,"y":2.29e-4},{"n":3200,"k":20,"y":3.8e-4},{"n":3200,"k":15,"y":3.31e-4},{"n":3200,"k":11,"y":2.69e-4},{"n":3200,"k":8,"y":2.09e-4},{"n":3300,"k":20,"y":9.2e-2},{"n":3400,"k":20,"y":3.63e-4},{"n":3400,"k":15,"y":3.16e-4},{"n":3400,"k":10,"y":2.57e-4},{"n":3400,"k":7,"y":1.91e-4},{"n":3600,"k":20,"y":3.47e-4},{"n":3600,"k":15,"y":3.02e-4},{"n":3600,"k":10,"y":2.45e-4},{"n":3600,"k":6,"y":1.66e-4},{"n":3700,"k":20,"y":9.2e-2},{"n":3800,"k":20,"y":3.31e-4},{"n":3800,"k":15,"y":2.88e-4},{"n":3800,"k":10,"y":2.34e-4},{"n":3800,"k":5,"y":1.74e-4},{"n":4000,"k":20,"y":3.16e-4},{"n":4000,"k":15,"y":2.75e-4},{"n":4000,"k":10,"y":2.19e-4},{"n":4000,"k":4,"y":1.2e-4},{"n":4000,"k":20,"y":9.2e-2},{"n":4100,"k":20,"y":9.2e-2},{"n":4200,"k":20,"y":3.09e-4},{"n":4200,"k":15,"y":2.63e-4},{"n":4200,"k":10,"y":2.09e-4},{"n":4200,"k":6,"y":1.48e-4},{"n":4200,"k":20,"y":9.2e-2},{"n":4300,"k":20,"y":9.2e-2},{"n":4400,"k":20,"y":2.95e-4},{"n":4400,"k":15,"y":2.51e-4},{"n":4400,"k":10,"y":2.0e-4},{"n":4400,"k":5,"y":1.32e-4},{"n":4400,"k":20,"y":9.2e-2},{"n":4500,"k":20,"y":9.2e-2},{"n":4600,"k":20,"y":2.82e-4},{"n":4600,"k":15,"y":2.4e-4},{"n":4600,"k":10,"y":1.91e-4},{"n":4600,"k":5,"y":1.26e-4},{"n":4600,"k":20,"y":9.2e-2},{"n":4700,"k":20,"y":9.2e-2},{"n":4800,"k":20,"y":2.75e-4},{"n":4800,"k":15,"y":2.34e-4},{"n":4800,"k":10,"y":1.82e-4},{"n":4800,"k":4,"y":1.07e-4},{"n":4800,"k":20,"y":9.2e-2},{"n":4900,"k":20,"y":9.2e-2},{"n":5000,"k":20,"y":2.63e-4},{"n":5000,"k":15,"y":2.24e-4},{"n":5000,"k":10,"y":1.74e-4},{"n":5000,"k":4,"y":9.55e-5},{"n":5000,"k":20,"y":9.2e-2}],
"m_sp3":[{"n":100,"y":9.8e-3},{"n":200,"y":3.89e-3},{"n":300,"y":3.24e-3},{"n":400,"y":2.57e-3},{"n":500,"y":1.82e-3},{"n":600,"y":1.78e-3},{"n":700,"y":1.7e-3},{"n":800,"y":1.41e-3},{"n":900,"y":1.26e-3},{"n":1000,"y":1.1e-3},{"n":1200,"y":8.7e-4},{"n":1400,"y":7.8e-4},{"n":1600,"y":6.8e-4},{"n":1800,"y":5.9e-4},{"n":2000,"y":5.4e-4},{"n":2400,"y":4.68e-4},{"n":3000,"y":3.8e-4},{"n":4000,"y":3.16e-4},{"n":5000,"y":2.63e-4}],
"sp4":[{"n":100,"k":15,"y":1.91e-2},{"n":100,"k":13,"y":1.62e-2},{"n":100,"k":11,"y":1.38e-2},{"n":100,"k":10,"y":1.17e-2},{"n":100,"k":9,"y":1.0e-2},{"n":200,"k":14,"y":8.7e-3},{"n":200,"k":12,"y":7.4e-3},{"n":200,"k":9,"y":6.2e-3},{"n":200,"k":7,"y":5.25e-3},{"n":200,"k":6,"y":4.47e-3},{"n":300,"k":18,"y":6.2e-3},{"n":300,"k":14,"y":5.0e-3},{"n":300,"k":11,"y":4.17e-3},{"n":300,"k":8,"y":3.39e-3},{"n":400,"k":15,"y":4.47e-3},{"n":400,"k":13,"y":3.89e-3},{"n":400,"k":11,"y":3.31e-3},{"n":400,"k":9,"y":2.82e-3},{"n":500,"k":16,"y":3.72e-3},{"n":500,"k":13,"y":3.24e-3},{"n":500,"k":11,"y":2.82e-3},{"n":500,"k":9,"y":2.45e-3},{"n":600,"k":16,"y":3.39e-3},{"n":600,"k":13,"y":2.82e-3},{"n":600,"k":10,"y":2.4e-3},{"n":600,"k":6,"y":1.74e-3},{"n":700,"k":17,"y":2.95e-3},{"n":700,"k":14,"y":2.63e-3},{"n":700,"k":12,"y":2.34e-3},{"n":700,"k":10,"y":2.09e-3},{"n":800,"k":17,"y":2.69e-3},{"n":800,"k":14,"y":2.4e-3},{"n":800,"k":12,"y":2.09e-3},{"n":800,"k":10,"y":1.82e-3},{"n":900,"k":17,"y":2.45e-3},{"n":900,"k":14,"y":2.14e-3},{"n":900,"k":12,"y":1.91e-3},{"n":900,"k":10,"y":1.62e-3},{"n":1000,"k":17,"y":2.19e-3},{"n":1000,"k":14,"y":1.95e-3},{"n":1000,"k":12,"y":1.7e-3},{"n":1000,"k":10,"y":1.48e-3},{"n":1200,"k":17,"y":1.51e-3},{"n":1200,"k":14,"y":1.32e-3},{"n":1200,"k":11,"y":1.15e-3},{"n":1400,"k":17,"y":1.32e-3},{"n":1400,"k":14,"y":1.15e-3},{"n":1400,"k":11,"y":1.0e-3},{"n":1600,"k":17,"y":1.17e-3},{"n":1600,"k":14,"y":1.02e-3},{"n":1600,"k":11,"y":8.9e-4},{"n":1800,"k":17,"y":1.07e-3},{"n":1800,"k":14,"y":9.3e-4},{"n":1800,"k":11,"y":8.1e-4},{"n":2000,"k":17,"y":9.55e-4},{"n":2000,"k":14,"y":8.3e-4},{"n":2000,"k":11,"y":7.2e-4},{"n":2200,"k":17,"y":8.9e-4},{"n":2200,"k":14,"y":7.8e-4},{"n":2200,"k":11,"y":6.8e-4},{"n":2400,"k":17,"y":8.1e-4},{"n":2400,"k":14,"y":7.1e-4},{"n":2400,"k":11,"y":6.2e-4},{"n":2600,"k":17,"y":7.6e-4},{"n":2600,"k":14,"y":6.6e-4},{"n":2600,"k":11,"y":5.75e-4},{"n":2800,"k":17,"y":7.1e-4},{"n":2800,"k":14,"y":6.2e-4},{"n":2800,"k":11,"y":5.4e-4},{"n":3000,"k":17,"y":6.5e-4},{"n":3000,"k":14,"y":5.6e-4},{"n":3000,"k":11,"y":4.9e-4},{"n":3200,"k":17,"y":6.2e-4},{"n":3200,"k":14,"y":5.4e-4},{"n":3200,"k":11,"y":4.68e-4},{"n":3400,"k":17,"y":5.9e-4},{"n":3400,"k":14,"y":5.1e-4},{"n":3400,"k":11,"y":4.37e-4},{"n":3600,"k":17,"y":5.6e-4},{"n":3600,"k":14,"y":4.9e-4},{"n":3600,"k":11,"y":4.17e-4},{"n":3800,"k":17,"y":5.25e-4},{"n":3800,"k":14,"y":4.57e-4},{"n":3800,"k":11,"y":3.98e-4},{"n":4000,"k":17,"y":5.0e-4},{"n":4000,"k":14,"y":4.37e-4},{"n":4000,"k":11,"y":3.8e-4},{"n":4200,"k":17,"y":4.79e-4},{"n":4200,"k":14,"y":4.17e-4},{"n":4200,"k":11,"y":3.55e-4},{"n":4400,"k":17,"y":4.57e-4},{"n":4400,"k":14,"y":3.98e-4},{"n":4400,"k":11,"y":3.39e-4},{"n":4600,"k":17,"y":4.27e-4},{"n":4600,"k":14,"y":3.72e-4},{"n":4600,"k":11,"y":3.24e-4},{"n":4800,"k":17,"y":4.07e-4},{"n":4800,"k":14,"y":3.55e-4},{"n":4800,"k":11,"y":3.09e-4},{"n":5000,"k":17,"y":3.89e-4},{"n":5000,"k":14,"y":3.39e-4},{"n":5000,"k":11,"y":2.88e-4}],
"m_sp4":[{"n":100,"y":1.38e-2},{"n":200,"y":6.9e-3},{"n":300,"y":4.47e-3},{"n":400,"y":3.55e-3},{"n":500,"y":2.95e-3},{"n":600,"y":2.45e-3},{"n":700,"y":2.24e-3},{"n":800,"y":2.0e-3},{"n":900,"y":1.82e-3},{"n":1000,"y":1.62e-3},{"n":1200,"y":1.35e-3},{"n":1400,"y":1.17e-3},{"n":1600,"y":1.05e-3},{"n":1800,"y":9.55e-4},{"n":2000,"y":8.5e-4},{"n":2400,"y":7.2e-4},{"n":3000,"y":5.75e-4},{"n":3600,"y":5.0e-4},{"n":4000,"y":4.47e-4},{"n":5000,"y":3.39e-4}]
},
"spacing":11,
"resolve":{"scale":{"color":"independent"}},
"vconcat":[
{"spacing":12,"resolve":{"scale":{"color":"independent"}},"hconcat":[
 {"width":298,"height":117,"title":"kmeans",
  "encoding":{"x":{"field":"n","type":"quantitative","scale":{"type":"log","domain":[78.4,5610],"nice":false},"axis":{"title":null,"labelFlush":false,"values":[100,316.2278,1000,3162.278],"labelExpr":"datum.value < 200 ? '10²·⁰' : datum.value < 500 ? '10²·⁵' : datum.value < 2000 ? '10³·⁰' : '10³·⁵'"}},
   "y":{"field":"y","type":"quantitative","scale":{"type":"log","domain":[9.5e-5,3.05e-2],"nice":false},"axis":{"title":null,"minExtent":46,"maxExtent":46,"values":[1e-4,3.16228e-4,1e-3,3.16228e-3,1e-2],"labelExpr":"datum.value > 0.005 ? '10⁻²·⁰' : datum.value > 0.002 ? '10⁻²·⁵' : datum.value > 0.0005 ? '10⁻³·⁰' : datum.value > 0.0002 ? '10⁻³·⁵' : '10⁻⁴·⁰'"}}},
  "layer":[
   {"data":{"name":"km12"},"mark":{"type":"circle","size":10,"opacity":1},"encoding":{"color":{"field":"k","type":"quantitative","scale":{"scheme":"viridis","reverse":true,"domain":[2,20]},"legend":null}}},
   {"data":{"name":"m_km12"},"mark":{"type":"line","color":"black","strokeWidth":1.5},"encoding":{}},
   {"data":{"name":"ref"},"transform":[{"filter":"datum.r == 1"}],"mark":{"type":"line","color":"black","strokeWidth":2.6,"strokeDash":[9,6]},"encoding":{}}
  ]},
 {"width":298,"height":117,"title":"product",
  "encoding":{"x":{"field":"n","type":"quantitative","scale":{"type":"log","domain":[78.4,5610],"nice":false},"axis":{"title":null,"labelFlush":false,"values":[100,316.2278,1000,3162.278],"labelExpr":"datum.value < 200 ? '10²·⁰' : datum.value < 500 ? '10²·⁵' : datum.value < 2000 ? '10³·⁰' : '10³·⁵'"}},
   "y":{"field":"y","type":"quantitative","scale":{"type":"log","domain":[9.5e-5,3.05e-2],"nice":false},"axis":{"title":null,"labels":false,"ticks":false,"minExtent":0,"values":[1e-4,3.16228e-4,1e-3,3.16228e-3,1e-2]}}},
  "layer":[
   {"data":{"name":"pr1"},"mark":{"type":"circle","size":10,"opacity":1},"encoding":{"color":{"field":"k","type":"quantitative","scale":{"scheme":"viridis","reverse":true,"domain":[2,20]},"legend":null}}},
   {"data":{"name":"m_pr1"},"mark":{"type":"line","color":"black","strokeWidth":1.5},"encoding":{}},
   {"data":{"name":"ref"},"transform":[{"filter":"datum.r == 1"}],"mark":{"type":"line","color":"black","strokeWidth":2.6,"strokeDash":[9,6]},"encoding":{}}
  ]},
 {"width":298,"height":117,"title":"spectral",
  "encoding":{"x":{"field":"n","type":"quantitative","scale":{"type":"log","domain":[78.4,5610],"nice":false},"axis":{"title":null,"labelFlush":false,"values":[100,316.2278,1000,3162.278],"labelExpr":"datum.value < 200 ? '10²·⁰' : datum.value < 500 ? '10²·⁵' : datum.value < 2000 ? '10³·⁰' : '10³·⁵'"}},
   "y":{"field":"y","type":"quantitative","scale":{"type":"log","domain":[9.5e-5,3.05e-2],"nice":false},"axis":{"title":null,"labels":false,"ticks":false,"minExtent":0,"values":[1e-4,3.16228e-4,1e-3,3.16228e-3,1e-2]}}},
  "layer":[
   {"data":{"name":"sp1"},"mark":{"type":"circle","size":10,"opacity":1},"encoding":{"color":{"field":"k","type":"quantitative","scale":{"scheme":"viridis","reverse":true,"domain":[2,20]},"legend":{"title":"k","orient":"right","direction":"vertical","gradientLength":117,"gradientThickness":11,"values":[2,4,6,8,10,12,14,16,18,20],"labelOverlap":false,"labelBaseline":"middle","labelFontSize":13,"labelOffset":4,"labelColor":"#111","titleOrient":"right","titleAnchor":"middle","titlePadding":4,"titleFontSize":15,"titleFontStyle":"italic","titleFontWeight":"normal","titleColor":"#111","offset":13,"padding":0,"encode":{"labels":{"update":{"baseline":{"value":"middle"}}}}}}}},
   {"data":{"name":"m_sp1"},"mark":{"type":"line","color":"black","strokeWidth":1.5},"encoding":{}},
   {"data":{"name":"ref"},"transform":[{"filter":"datum.r == 1"}],"mark":{"type":"line","color":"black","strokeWidth":2.6,"strokeDash":[9,6]},"encoding":{}}
  ]}
]},
{"spacing":12,"resolve":{"scale":{"color":"independent"}},"hconcat":[
 {"width":298,"height":117,
  "encoding":{"x":{"field":"n","type":"quantitative","scale":{"type":"log","domain":[78.4,5610],"nice":false},"axis":{"title":null,"labelFlush":false,"values":[100,316.2278,1000,3162.278],"labelExpr":"datum.value < 200 ? '10²·⁰' : datum.value < 500 ? '10²·⁵' : datum.value < 2000 ? '10³·⁰' : '10³·⁵'"}},
   "y":{"field":"y","type":"quantitative","scale":{"type":"log","domain":[9.5e-5,3.16e-2],"nice":false},"axis":{"title":null,"minExtent":46,"maxExtent":46,"values":[1e-4,3.16228e-4,1e-3,3.16228e-3,1e-2],"labelExpr":"datum.value > 0.005 ? '10⁻²·⁰' : datum.value > 0.002 ? '10⁻²·⁵' : datum.value > 0.0005 ? '10⁻³·⁰' : datum.value > 0.0002 ? '10⁻³·⁵' : '10⁻⁴·⁰'"}}},
  "layer":[
   {"data":{"name":"km12"},"mark":{"type":"circle","size":10,"opacity":1},"encoding":{"color":{"field":"k","type":"quantitative","scale":{"scheme":"viridis","reverse":true,"domain":[2,20]},"legend":null}}},
   {"data":{"name":"m_km12"},"mark":{"type":"line","color":"black","strokeWidth":1.5},"encoding":{}},
   {"data":{"name":"ref"},"transform":[{"filter":"datum.r == 2"}],"mark":{"type":"line","color":"black","strokeWidth":2.6,"strokeDash":[9,6]},"encoding":{}}
  ]},
 {"width":298,"height":117,
  "encoding":{"x":{"field":"n","type":"quantitative","scale":{"type":"log","domain":[78.4,5610],"nice":false},"axis":{"title":null,"labelFlush":false,"values":[100,316.2278,1000,3162.278],"labelExpr":"datum.value < 200 ? '10²·⁰' : datum.value < 500 ? '10²·⁵' : datum.value < 2000 ? '10³·⁰' : '10³·⁵'"}},
   "y":{"field":"y","type":"quantitative","scale":{"type":"log","domain":[9.5e-5,3.16e-2],"nice":false},"axis":{"title":null,"labels":false,"ticks":false,"minExtent":0,"values":[1e-4,3.16228e-4,1e-3,3.16228e-3,1e-2]}}},
  "layer":[
   {"data":{"name":"pr2"},"mark":{"type":"circle","size":10,"opacity":1},"encoding":{"color":{"field":"k","type":"quantitative","scale":{"scheme":"viridis","reverse":true,"domain":[2,20]},"legend":null}}},
   {"data":{"name":"m_pr2"},"mark":{"type":"line","color":"black","strokeWidth":1.5},"encoding":{}},
   {"data":{"name":"ref"},"transform":[{"filter":"datum.r == 2"}],"mark":{"type":"line","color":"black","strokeWidth":2.6,"strokeDash":[9,6]},"encoding":{}}
  ]},
 {"width":298,"height":117,
  "encoding":{"x":{"field":"n","type":"quantitative","scale":{"type":"log","domain":[78.4,5610],"nice":false},"axis":{"title":null,"labelFlush":false,"values":[100,316.2278,1000,3162.278],"labelExpr":"datum.value < 200 ? '10²·⁰' : datum.value < 500 ? '10²·⁵' : datum.value < 2000 ? '10³·⁰' : '10³·⁵'"}},
   "y":{"field":"y","type":"quantitative","scale":{"type":"log","domain":[9.5e-5,3.16e-2],"nice":false},"axis":{"title":null,"labels":false,"ticks":false,"minExtent":0,"values":[1e-4,3.16228e-4,1e-3,3.16228e-3,1e-2]}}},
  "layer":[
   {"data":{"name":"sp2"},"mark":{"type":"circle","size":10,"opacity":1},"encoding":{"color":{"field":"k","type":"quantitative","scale":{"scheme":"viridis","reverse":true,"domain":[2,20]},"legend":{"title":"k","orient":"right","direction":"vertical","gradientLength":117,"gradientThickness":11,"values":[2,4,6,8,10,12,14,16,18,20],"labelOverlap":false,"labelBaseline":"middle","labelFontSize":13,"labelOffset":4,"labelColor":"#111","titleOrient":"right","titleAnchor":"middle","titlePadding":4,"titleFontSize":15,"titleFontStyle":"italic","titleFontWeight":"normal","titleColor":"#111","offset":13,"padding":0,"encode":{"labels":{"update":{"baseline":{"value":"middle"}}}}}}}},
   {"data":{"name":"m_sp2"},"mark":{"type":"line","color":"black","strokeWidth":1.5},"encoding":{}},
   {"data":{"name":"ref"},"transform":[{"filter":"datum.r == 2"}],"mark":{"type":"line","color":"black","strokeWidth":2.6,"strokeDash":[9,6]},"encoding":{}}
  ]}
]},
{"spacing":12,"resolve":{"scale":{"color":"independent"}},"hconcat":[
 {"width":298,"height":117,
  "encoding":{"x":{"field":"n","type":"quantitative","scale":{"type":"log","domain":[78.4,5610],"nice":false},"axis":{"title":null,"labelFlush":false,"values":[100,316.2278,1000,3162.278],"labelExpr":"datum.value < 200 ? '10²·⁰' : datum.value < 500 ? '10²·⁵' : datum.value < 2000 ? '10³·⁰' : '10³·⁵'"}},
   "y":{"field":"y","type":"quantitative","scale":{"type":"log","domain":[2.73e-5,0.134],"nice":false},"axis":{"title":null,"minExtent":46,"maxExtent":46,"values":[1e-4,1e-3,1e-2,1e-1],"labelExpr":"datum.value > 0.05 ? '10⁻¹' : datum.value > 0.005 ? '10⁻²' : datum.value > 0.0005 ? '10⁻³' : '10⁻⁴'"}}},
  "layer":[
   {"data":{"name":"km3"},"mark":{"type":"circle","size":10,"opacity":1},"encoding":{"color":{"field":"k","type":"quantitative","scale":{"scheme":"viridis","reverse":true,"domain":[3,20]},"legend":null}}},
   {"data":{"name":"m_km3"},"mark":{"type":"line","color":"black","strokeWidth":1.5},"encoding":{}},
   {"data":{"name":"ref"},"transform":[{"filter":"datum.r == 3"}],"mark":{"type":"line","color":"black","strokeWidth":2.6,"strokeDash":[9,6]},"encoding":{}}
  ]},
 {"width":298,"height":117,
  "encoding":{"x":{"field":"n","type":"quantitative","scale":{"type":"log","domain":[78.4,5610],"nice":false},"axis":{"title":null,"labelFlush":false,"values":[100,316.2278,1000,3162.278],"labelExpr":"datum.value < 200 ? '10²·⁰' : datum.value < 500 ? '10²·⁵' : datum.value < 2000 ? '10³·⁰' : '10³·⁵'"}},
   "y":{"field":"y","type":"quantitative","scale":{"type":"log","domain":[2.73e-5,0.134],"nice":false},"axis":{"title":null,"labels":false,"ticks":false,"minExtent":0,"values":[1e-4,1e-3,1e-2,1e-1]}}},
  "layer":[
   {"data":{"name":"pr3"},"mark":{"type":"circle","size":10,"opacity":1},"encoding":{"color":{"field":"k","type":"quantitative","scale":{"scheme":"viridis","reverse":true,"domain":[3,20]},"legend":null}}},
   {"data":{"name":"m_pr3"},"mark":{"type":"line","color":"black","strokeWidth":1.5},"encoding":{}},
   {"data":{"name":"ref"},"transform":[{"filter":"datum.r == 3"}],"mark":{"type":"line","color":"black","strokeWidth":2.6,"strokeDash":[9,6]},"encoding":{}}
  ]},
 {"width":298,"height":117,
  "encoding":{"x":{"field":"n","type":"quantitative","scale":{"type":"log","domain":[78.4,5610],"nice":false},"axis":{"title":null,"labelFlush":false,"values":[100,316.2278,1000,3162.278],"labelExpr":"datum.value < 200 ? '10²·⁰' : datum.value < 500 ? '10²·⁵' : datum.value < 2000 ? '10³·⁰' : '10³·⁵'"}},
   "y":{"field":"y","type":"quantitative","scale":{"type":"log","domain":[2.73e-5,0.134],"nice":false},"axis":{"title":null,"labels":false,"ticks":false,"minExtent":0,"values":[1e-4,1e-3,1e-2,1e-1]}}},
  "layer":[
   {"data":{"name":"sp3"},"mark":{"type":"circle","size":10,"opacity":1},"encoding":{"color":{"field":"k","type":"quantitative","scale":{"scheme":"viridis","reverse":true,"domain":[3,20]},"legend":{"title":"k","orient":"right","direction":"vertical","gradientLength":117,"gradientThickness":11,"values":[5,10,15,20],"labelOverlap":false,"labelBaseline":"middle","labelFontSize":14,"labelOffset":4,"labelColor":"#111","titleOrient":"right","titleAnchor":"middle","titlePadding":4,"titleFontSize":15,"titleFontStyle":"italic","titleFontWeight":"normal","titleColor":"#111","offset":13,"padding":0,"encode":{"labels":{"update":{"baseline":{"value":"middle"}}}}}}}},
   {"data":{"name":"m_sp3"},"mark":{"type":"line","color":"black","strokeWidth":1.5},"encoding":{}},
   {"data":{"name":"ref"},"transform":[{"filter":"datum.r == 3"}],"mark":{"type":"line","color":"black","strokeWidth":2.6,"strokeDash":[9,6]},"encoding":{}}
  ]}
]},
{"spacing":12,"resolve":{"scale":{"color":"independent"}},"hconcat":[
 {"width":298,"height":117,
  "encoding":{"x":{"field":"n","type":"quantitative","scale":{"type":"log","domain":[78.4,5610],"nice":false},"axis":{"title":null,"labelFlush":false,"values":[100,316.2278,1000,3162.278],"labelExpr":"datum.value < 200 ? '10²·⁰' : datum.value < 500 ? '10²·⁵' : datum.value < 2000 ? '10³·⁰' : '10³·⁵'"}},
   "y":{"field":"y","type":"quantitative","scale":{"type":"log","domain":[9.3e-5,5.04e-2],"nice":false},"axis":{"title":null,"minExtent":46,"maxExtent":46,"values":[1e-4,1e-3,1e-2],"labelExpr":"datum.value > 0.05 ? '10⁻¹' : datum.value > 0.005 ? '10⁻²' : datum.value > 0.0005 ? '10⁻³' : '10⁻⁴'"}}},
  "layer":[
   {"data":{"name":"km4"},"mark":{"type":"circle","size":10,"opacity":1},"encoding":{"color":{"field":"k","type":"quantitative","scale":{"scheme":"viridis","reverse":true,"domain":[3,20]},"legend":null}}},
   {"data":{"name":"m_km4"},"mark":{"type":"line","color":"black","strokeWidth":1.5},"encoding":{}},
   {"data":{"name":"ref"},"transform":[{"filter":"datum.r == 4"}],"mark":{"type":"line","color":"black","strokeWidth":2.6,"strokeDash":[9,6]},"encoding":{}}
  ]},
 {"width":298,"height":117,
  "encoding":{"x":{"field":"n","type":"quantitative","scale":{"type":"log","domain":[78.4,5610],"nice":false},"axis":{"title":null,"labelFlush":false,"values":[100,316.2278,1000,3162.278],"labelExpr":"datum.value < 200 ? '10²·⁰' : datum.value < 500 ? '10²·⁵' : datum.value < 2000 ? '10³·⁰' : '10³·⁵'"}},
   "y":{"field":"y","type":"quantitative","scale":{"type":"log","domain":[9.3e-5,5.04e-2],"nice":false},"axis":{"title":null,"labels":false,"ticks":false,"minExtent":0,"values":[1e-4,1e-3,1e-2]}}},
  "layer":[
   {"data":{"name":"pr4"},"mark":{"type":"circle","size":10,"opacity":1},"encoding":{"color":{"field":"k","type":"quantitative","scale":{"scheme":"viridis","reverse":true,"domain":[3,20]},"legend":null}}},
   {"data":{"name":"m_pr4"},"mark":{"type":"line","color":"black","strokeWidth":1.5},"encoding":{}},
   {"data":{"name":"ref"},"transform":[{"filter":"datum.r == 4"}],"mark":{"type":"line","color":"black","strokeWidth":2.6,"strokeDash":[9,6]},"encoding":{}}
  ]},
 {"width":298,"height":117,
  "encoding":{"x":{"field":"n","type":"quantitative","scale":{"type":"log","domain":[78.4,5610],"nice":false},"axis":{"title":null,"labelFlush":false,"values":[100,316.2278,1000,3162.278],"labelExpr":"datum.value < 200 ? '10²·⁰' : datum.value < 500 ? '10²·⁵' : datum.value < 2000 ? '10³·⁰' : '10³·⁵'"}},
   "y":{"field":"y","type":"quantitative","scale":{"type":"log","domain":[9.3e-5,5.04e-2],"nice":false},"axis":{"title":null,"labels":false,"ticks":false,"minExtent":0,"values":[1e-4,1e-3,1e-2]}}},
  "layer":[
   {"data":{"name":"sp4"},"mark":{"type":"circle","size":10,"opacity":1},"encoding":{"color":{"field":"k","type":"quantitative","scale":{"scheme":"viridis","reverse":true,"domain":[3,20]},"legend":{"title":"k","orient":"right","direction":"vertical","gradientLength":117,"gradientThickness":11,"values":[5,10,15,20],"labelOverlap":false,"labelBaseline":"middle","labelFontSize":14,"labelOffset":4,"labelColor":"#111","titleOrient":"right","titleAnchor":"middle","titlePadding":4,"titleFontSize":15,"titleFontStyle":"italic","titleFontWeight":"normal","titleColor":"#111","offset":13,"padding":0,"encode":{"labels":{"update":{"baseline":{"value":"middle"}}}}}}}},
   {"data":{"name":"m_sp4"},"mark":{"type":"line","color":"black","strokeWidth":1.5},"encoding":{}},
   {"data":{"name":"ref"},"transform":[{"filter":"datum.r == 4"}],"mark":{"type":"line","color":"black","strokeWidth":2.6,"strokeDash":[9,6]},"encoding":{}}
  ]}
]}
]
}
